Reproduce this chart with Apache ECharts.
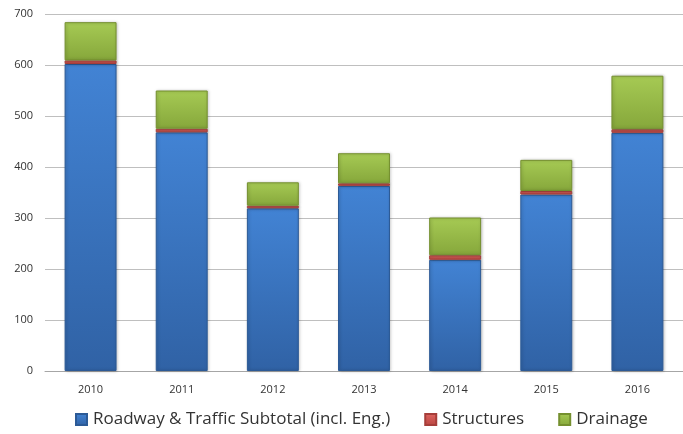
<!DOCTYPE html>
<html>
<head>
<meta charset="utf-8">
<script src="https://cdn.jsdelivr.net/npm/echarts@6/dist/echarts.min.js"></script>
<style>
  html, body { margin: 0; padding: 0; background: #fff; }
  #chart { width: 683px; height: 434px; }
</style>
</head>
<body>
<div id="chart"></div>
<script>
// years on the x axis
const years = ['2010', '2011', '2012', '2013', '2014', '2015', '2016'];
// stacked values
const roadway = [602, 468, 319, 363, 218, 346, 467];
const structures = [7, 7, 5, 5, 9, 7, 7];
const drainage = [75, 75, 46, 59, 74, 61, 105];

const seriesNames = ['Roadway & Traffic Subtotal (incl. Eng.)', 'Structures', 'Drainage'];

// vertical gradient, lighter at the top like the bevelled bars
function grad(top, bottom) {
  return new echarts.graphic.LinearGradient(0, 0, 0, 1, [
    { offset: 0, color: top },
    { offset: 1, color: bottom }
  ]);
}

function barSeries(name, data, top, bottom, border) {
  return {
    name: name,
    type: 'bar',
    stack: 'total',
    data: data,
    barWidth: '57%',
    itemStyle: {
      color: grad(top, bottom),
      borderColor: border,
      borderWidth: 1,
      shadowColor: 'rgba(0,0,0,0.25)',
      shadowBlur: 3,
      shadowOffsetX: 1
    },
    emphasis: { disabled: true }
  };
}

const chart = echarts.init(document.getElementById('chart'));
chart.setOption({
  animation: false,
  textStyle: { fontFamily: 'Open Sans' },
  grid: { left: 45, right: -11, top: 14, bottom: 63 },
  legend: {
    bottom: 1,
    left: 70,
    itemWidth: 11,
    itemHeight: 11,
    itemGap: 34,
    icon: 'rect',
    textStyle: { color: '#333', fontSize: 17, fontFamily: 'Open Sans', padding: [0, 0, 0, 1] },
    data: seriesNames
  },
  xAxis: {
    type: 'category',
    data: years,
    axisLine: { lineStyle: { color: '#a6a6a6' } },
    axisTick: { show: false },
    axisLabel: { color: '#333', fontSize: 11, margin: 13 }
  },
  yAxis: {
    type: 'value',
    min: 0,
    max: 700,
    interval: 100,
    axisLine: { show: false },
    axisTick: { show: false },
    axisLabel: { color: '#333', fontSize: 11, margin: 12 },
    splitLine: { lineStyle: { color: '#bfbfbf' } }
  },
  series: [
    barSeries(seriesNames[0], roadway, '#4283d4', '#3062a5', '#2c5a96'),
    barSeries(seriesNames[1], structures, '#e06662', '#b84540', '#a63e3a'),
    barSeries(seriesNames[2], drainage, '#a6ca54', '#86a73b', '#75902f')
  ]
});
</script>
</body>
</html>
